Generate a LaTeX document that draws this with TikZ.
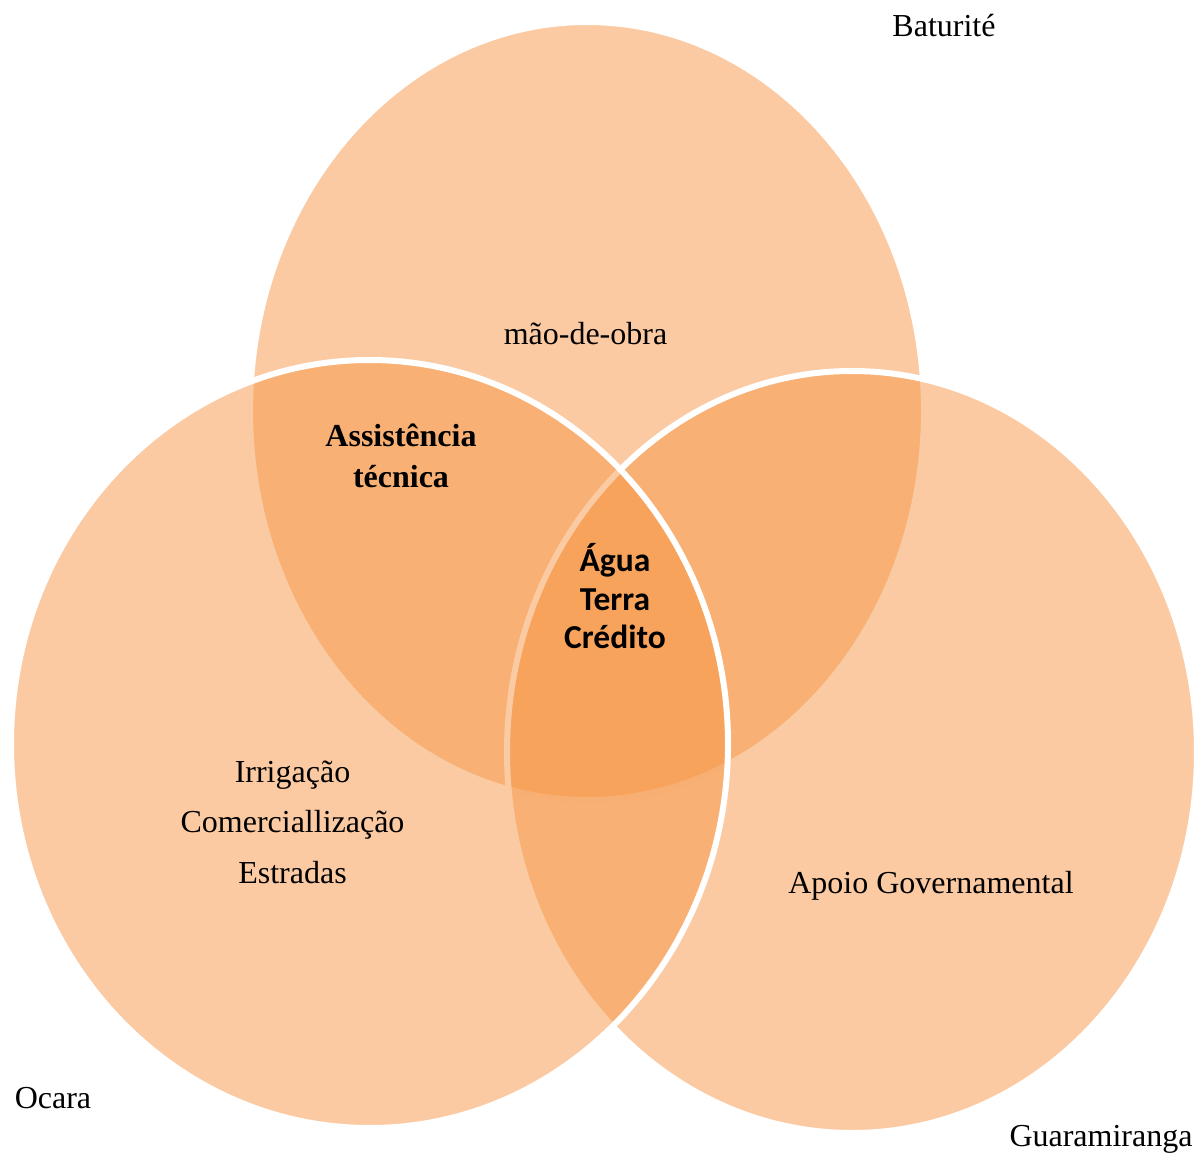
\documentclass[tikz,border=0pt]{standalone}
\usepackage{fontspec}
\setmainfont{Liberation Serif}
\newfontfamily\serifbold{Liberation Serif Bold}
\newfontfamily\calib{Carlito}
\definecolor{venn}{HTML}{F79646}
\tikzset{
  vennset/.style={fill=venn, fill opacity=0.5, draw=white, line width=6pt},
  lbl/.style={anchor=base, inner sep=0pt, font=\fontsize{32}{38}\selectfont},
  boldlbl/.style={anchor=base, inner sep=0pt, font=\serifbold\fontsize{32}{38}\selectfont},
  centerlbl/.style={anchor=base, inner sep=0pt, font=\calib\fontsize{33.5}{40}\selectfont\bfseries}
}
\begin{document}
\begin{tikzpicture}[x=1pt,y=-1pt]
\useasboundingbox (0,0) rectangle (1195,1155);
% sets: top, right, left
\draw[vennset] (587,411) ellipse [x radius=337pt, y radius=389pt];
\draw[vennset] (852,752) ellipse [x radius=345pt, y radius=381pt];
\draw[vennset] (369.5,744) ellipse [x radius=358.5pt, y radius=384pt];
% set names
\node[lbl] (baturite) at (944,37) {Baturité};
\node[lbl] (ocara) at (53,1108) {Ocara};
\node[lbl] (guara) at (1101,1146) {Guaramiranga};
% region texts
\node[lbl] (mao) at (585.5,345) {mão-de-obra};
\node[boldlbl] (assist1) at (401,447) {Assistência};
\node[boldlbl] (assist2) at (401,488) {técnica};
\node[centerlbl] (agua) at (615,572) {Água};
\node[centerlbl] (terra) at (615,610) {Terra};
\node[centerlbl] (credito) at (615,648) {Crédito};
\node[lbl] (irrig) at (292.5,782) {Irrigação};
\node[lbl] (comerc) at (292.5,832) {Comerciallização};
\node[lbl] (estradas) at (292.5,883) {Estradas};
\node[lbl] (apoio) at (931,893) {Apoio Governamental};
\end{tikzpicture}
\end{document}
